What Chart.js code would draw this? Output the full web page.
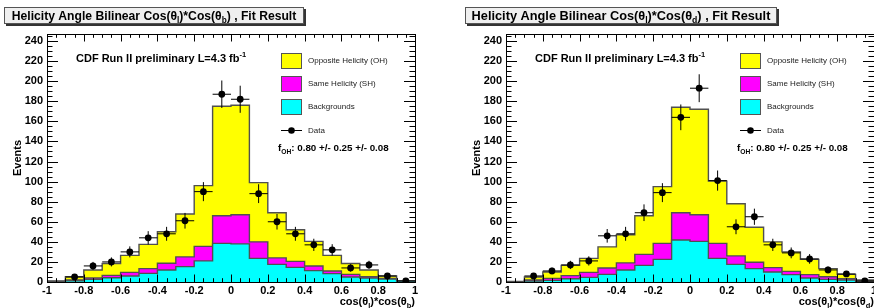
<!DOCTYPE html>
<html>
<head>
<meta charset="utf-8">
<script src="https://cdn.jsdelivr.net/npm/chart.js@4.4.1/dist/chart.umd.min.js"></script>
<style>
    body { margin: 0; background: #fff; width: 874px; height: 308px; overflow: hidden; position: relative; }
    .panel { position: absolute; top: 0; width: 437px; height: 308px; }
</style>
</head>
<body>
<div class="panel" style="left:0"><canvas id="leftChart" width="437" height="308"></canvas></div>
<div class="panel" style="left:459px"><canvas id="rightChart" width="437" height="308"></canvas></div>
<script>
// Bin edges of cos(theta_l)*cos(theta_x), 20 bins of 0.1
const binEdges = [-1, -0.9, -0.8, -0.7, -0.6, -0.5, -0.4, -0.3, -0.2, -0.1, 0,
                  0.1, 0.2, 0.3, 0.4, 0.5, 0.6, 0.7, 0.8, 0.9, 1];

const xTickValues = [-1, -0.8, -0.6, -0.4, -0.2, 0, 0.2, 0.4, 0.6, 0.8, 1];
const xTickLabels = ['-1', '-0.8', '-0.6', '-0.4', '-0.2', '0', '0.2', '0.4', '0.6', '0.8', '1'];
const yTickValues = [0, 20, 40, 60, 80, 100, 120, 140, 160, 180, 200, 220, 240];
const yTickLabels = ['0', '20', '40', '60', '80', '100', '120', '140', '160', '180', '200', '220', '240'];

// Left: Cos(theta_l)*Cos(theta_b)
const leftBkg = [0.3, 1.3, 2.6, 4.3, 6, 8.6, 12, 15.3, 21, 38.5, 38, 23.5, 17.6, 14.6, 11.3, 8.3, 5, 4, 3, 1];
const leftSH  = [0.2, 0.7, 1.4, 2.3, 3.6, 4.7, 6.6, 9.7, 14.5, 27.5, 29, 16.5, 6.4, 5.9, 4.7, 2.7, 2.6, 1.3, 0.6, 0];
const leftOH  = [0.5, 3.3, 8, 11.9, 16.9, 24.2, 31.4, 42.7, 60.5, 109, 109, 59, 45, 31.5, 24.5, 15.5, 10.9, 6.7, 2.4, 0.3];
const leftData = [null, 5, 16, 20, 30, 44, 48, 61, 90, 187, 182, 88, 60, 48, 37, 32, 14, 17, 6, 1];

// Right: Cos(theta_l)*Cos(theta_d)
const rightBkg = [0.2, 1, 1.6, 3.3, 4.6, 7.6, 12, 16.6, 22.5, 41.8, 40.5, 23.5, 17.6, 13.3, 10, 7.3, 4, 2.6, 2, 0.6];
const rightSH  = [0.1, 1, 2, 3, 5, 6.4, 7, 10.9, 16, 27.2, 26.5, 15, 8.4, 6.3, 4.3, 3.3, 3.3, 2.7, 1.3, 0.4];
const rightOH  = [0.2, 3, 6.4, 10.3, 13.9, 21, 28, 38.5, 56.5, 105, 105, 62, 52, 34.9, 25.7, 19.4, 15.2, 8, 4.3, 1];
const rightData = [null, 6, 11, 17, 21, 46, 48, 69, 89, 164, 193, 101, 55, 65, 37, 29, 23, 12, 8, 1];

const legendLabels = ['Opposite Helicity (OH)', 'Same Helicity (SH)', 'Backgrounds', 'Data'];
const FONT = "'Liberation Sans', Arial, Helvetica, sans-serif";

// stepped outline points: value of bin i held from edge i to edge i+1
function stepPoints(vals) {
    return binEdges.map((e, i) => ({ x: e, y: vals[Math.min(i, vals.length - 1)] }));
}

function addArrays(a, b) {
    return a.map((v, i) => v + b[i]);
}

// text made of parts [text, 'sub'|'sup'|undefined]
function richWidth(ctx, parts, size, weight) {
    let w = 0;
    parts.forEach(p => {
        ctx.font = `${weight} ${p[1] ? size * 0.68 : size}px ${FONT}`;
        w += ctx.measureText(p[0]).width;
    });
    return w;
}

function drawRich(ctx, parts, x, y, size, weight, align) {
    const w = richWidth(ctx, parts, size, weight);
    let cx = align === 'right' ? x - w : (align === 'center' ? x - w / 2 : x);
    ctx.textBaseline = 'alphabetic';
    ctx.textAlign = 'left';
    parts.forEach(p => {
        ctx.font = `${weight} ${p[1] ? size * 0.68 : size}px ${FONT}`;
        let dy = 0;
        if (p[1] === 'sub') dy = size * 0.3;
        if (p[1] === 'sup') dy = -size * 0.45;
        ctx.fillText(p[0], cx, y + dy);
        cx += ctx.measureText(p[0]).width;
    });
    return w;
}

function decorPlugin(cfg) {
    return {
        id: 'rootDecor',
        afterDatasetsDraw(chart) {
            const ctx = chart.ctx;
            const xs = chart.scales.x, ys = chart.scales.y;
            const area = chart.chartArea;
            ctx.save();

            // error bars for data points
            ctx.strokeStyle = '#000';
            ctx.lineWidth = 1;
            cfg.data.forEach((v, i) => {
                if (v === null) return;
                const c = (binEdges[i] + binEdges[i + 1]) / 2;
                const px = xs.getPixelForValue(c), py = ys.getPixelForValue(v);
                const err = Math.sqrt(v);
                ctx.beginPath();
                ctx.moveTo(xs.getPixelForValue(binEdges[i]), py);
                ctx.lineTo(xs.getPixelForValue(binEdges[i + 1]), py);
                ctx.moveTo(px, ys.getPixelForValue(Math.max(0, v - err)));
                ctx.lineTo(px, ys.getPixelForValue(v + err));
                ctx.stroke();
            });

            // frame
            ctx.strokeStyle = '#000';
            ctx.lineWidth = 1;
            ctx.strokeRect(area.left + 0.5, area.top + 0.5, area.right - area.left, area.bottom - area.top);

            // inward ticks on all four sides
            ctx.beginPath();
            for (let k = 0; k <= 40; k++) {
                const v = -1 + k * 0.05;
                const px = Math.round(xs.getPixelForValue(v)) + 0.5;
                const len = (k % 4 === 0) ? 7.5 : 3.8;
                ctx.moveTo(px, area.bottom); ctx.lineTo(px, area.bottom - len);
                ctx.moveTo(px, area.top); ctx.lineTo(px, area.top + len);
            }
            for (let v = 0; v <= ys.max; v += 5) {
                const py = Math.round(ys.getPixelForValue(v)) + 0.5;
                const len = (v % 20 === 0) ? 11 : 5.5;
                ctx.moveTo(area.left, py); ctx.lineTo(area.left + len, py);
                ctx.moveTo(area.right, py); ctx.lineTo(area.right - len, py);
            }
            ctx.stroke();

            // Title pave
            const b = cfg.titleBox;
            ctx.fillStyle = '#333';
            ctx.fillRect(b.x + 2, b.y + 2, b.w, b.h);
            ctx.fillStyle = '#efefef';
            ctx.fillRect(b.x, b.y, b.w, b.h);
            ctx.strokeStyle = '#555';
            ctx.strokeRect(b.x + 0.5, b.y + 0.5, b.w - 1, b.h - 1);
            ctx.fillStyle = '#000';
            const titleParts = [['Helicity Angle Bilinear Cos(θ'], ['l', 'sub'], [')*Cos(θ'], [cfg.sub, 'sub'], [') , Fit Result']];
            const tSize = 13 * cfg.titleWidth / richWidth(ctx, titleParts, 13, 'bold');
            drawRich(ctx, titleParts, b.x + b.w / 2, b.y + 12.5, tSize, 'bold', 'center');

            // axis titles
            drawRich(ctx, [['cos(θ'], ['l', 'sub'], [')*cos(θ'], [cfg.sub, 'sub'], [')']],
                     area.right, 304.5, 11, 'bold', 'right');
            ctx.save();
            ctx.translate(21, 158);
            ctx.rotate(-Math.PI / 2);
            ctx.font = `bold 11px ${FONT}`;
            ctx.textAlign = 'center';
            ctx.textBaseline = 'alphabetic';
            ctx.fillText('Events', 0, 0);
            ctx.restore();

            // CDF label
            drawRich(ctx, [['CDF Run II preliminary L=4.3 fb'], ['-1', 'sup']], 76, 61.5, 11, 'bold', 'left');

            // legend
            const lx = 281, lw = 21;
            const boxes = [['#ffff00', 53], ['#ff00ff', 76], ['#00ffff', 99]];
            boxes.forEach((bx, i) => {
                ctx.fillStyle = bx[0];
                ctx.fillRect(lx, bx[1], lw, 16);
                ctx.strokeStyle = '#555';
                ctx.strokeRect(lx + 0.5, bx[1] + 0.5, lw - 1, 15);
                ctx.fillStyle = '#222';
                ctx.font = `8px ${FONT}`;
                ctx.textBaseline = 'middle';
                ctx.textAlign = 'left';
                ctx.fillText(legendLabels[i], 308, bx[1] + 8);
            });
            ctx.strokeStyle = '#000';
            ctx.beginPath();
            ctx.moveTo(lx, 130.5); ctx.lineTo(lx + lw, 130.5);
            ctx.stroke();
            ctx.fillStyle = '#000';
            ctx.beginPath();
            ctx.arc(lx + lw / 2, 130.5, 3.3, 0, Math.PI * 2);
            ctx.fill();
            ctx.fillStyle = '#222';
            ctx.font = `8px ${FONT}`;
            ctx.fillText(legendLabels[3], 308, 130.5);

            ctx.fillStyle = '#000';
            drawRich(ctx, [['f'], ['OH', 'sub'], [': 0.80 +/- 0.25 +/- 0.08']], 278, 151, 9.8, 'bold', 'left');

            ctx.restore();
        }
    };
}

function makePanel(canvasId, bkg, sh, oh, data, cfg) {
    const shTop = addArrays(bkg, sh);
    const total = addArrays(shTop, oh);
    const centers = binEdges.slice(0, -1).map((e, i) => (e + binEdges[i + 1]) / 2);
    const dataPts = data.map((v, i) => ({ x: centers[i], y: v })).filter(p => p.y !== null);
    cfg.data = data;

    const histStyle = (color, ord) => ({
        stepped: 'before',
        fill: 'origin',
        backgroundColor: color,
        borderColor: '#505050',
        borderWidth: 1.4,
        pointRadius: 0,
        order: ord
    });

    return new Chart(document.getElementById(canvasId), {
        type: 'line',
        data: {
            datasets: [
                { label: 'Data', data: dataPts, showLine: false, pointRadius: 3.4,
                  pointBackgroundColor: '#000', pointBorderWidth: 0, order: 0 },
                Object.assign({ label: 'Backgrounds', data: stepPoints(bkg) }, histStyle('#00ffff', 1)),
                Object.assign({ label: 'SH', data: stepPoints(shTop) }, histStyle('#ff00ff', 2)),
                Object.assign({ label: 'OH', data: stepPoints(total) }, histStyle('#ffff00', 3))
            ]
        },
        options: {
            responsive: false,
            animation: false,
            events: [],
            devicePixelRatio: 1,
            layout: { padding: { top: 34, right: 22, left: 0, bottom: 0 } },
            plugins: { legend: { display: false }, tooltip: { enabled: false } },
            scales: {
                x: {
                    type: 'linear', min: -1, max: 1,
                    afterBuildTicks: s => { s.ticks = xTickValues.map(v => ({ value: v })); },
                    afterFit: s => { s.height = 26; },
                    grid: { display: false, drawTicks: false },
                    border: { display: false },
                    ticks: {
                        autoSkip: false, maxRotation: 0, padding: 2, color: '#000',
                        font: { family: FONT, size: 11, weight: 'bold' },
                        callback: (v, i) => xTickLabels[i]
                    }
                },
                y: {
                    min: 0, max: 247,
                    afterBuildTicks: s => { s.ticks = yTickValues.map(v => ({ value: v })); },
                    afterFit: s => { s.width = 47; },
                    grid: { display: false, drawTicks: false },
                    border: { display: false },
                    ticks: {
                        padding: 4, color: '#000',
                        font: { family: FONT, size: 11, weight: 'bold' },
                        callback: (v, i) => yTickLabels[i]
                    }
                }
            }
        },
        plugins: [decorPlugin(cfg)]
    });
}

makePanel('leftChart', leftBkg, leftSH, leftOH, leftData,
    { sub: 'b', titleBox: { x: 4, y: 7, w: 300, h: 17 }, titleWidth: 285 });
makePanel('rightChart', rightBkg, rightSH, rightOH, rightData,
    { sub: 'd', titleBox: { x: 6, y: 7, w: 312, h: 17 }, titleWidth: 299 });
</script>
</body>
</html>
